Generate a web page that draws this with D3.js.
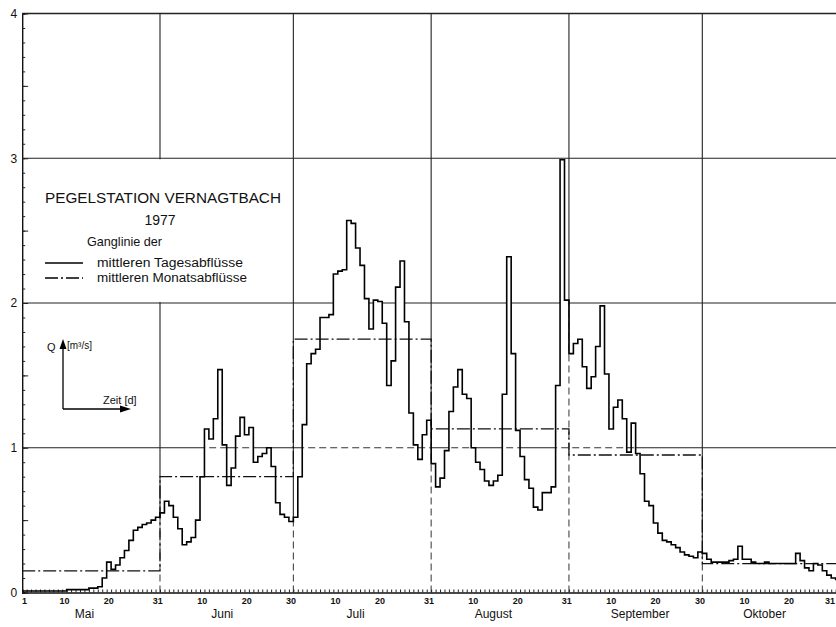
<!DOCTYPE html>
<html><head><meta charset="utf-8">
<script src="https://cdn.jsdelivr.net/npm/d3@7"></script>
<style>body{margin:0;background:#fff}svg{display:block}text{font-family:"Liberation Sans",Arial,sans-serif;fill:#111}</style>
</head><body><svg id="c" width="836" height="627"></svg>
<script>
// ---- data (mean daily discharge Q [m3/s], Vernagtbach 1977) ----
const mai = [0.01,0.01,0.01,0.01,0.01,0.01,0.01,0.01,0.01,0.01,
  0.02,0.02,0.02,0.02,0.02,0.03,0.03,0.04,
  0.10,0.21,0.16,0.19,0.24,0.29,0.36,0.43,0.45,0.47,0.48,0.50,0.52];
const juni = [0.55,0.63,0.60,0.52,0.44,0.33,0.35,0.38,0.50,0.80,
  1.13,1.06,1.20,1.54,1.02,0.74,0.86,1.08,1.21,1.09,
  1.14,0.90,0.94,0.96,1.00,0.87,0.62,0.54,0.52,0.49];
const juli = [0.52,0.80,1.16,1.58,1.65,1.68,1.90,1.90,1.92,2.20,
  2.22,2.23,2.57,2.55,2.38,2.26,2.03,1.82,2.02,2.01,
  1.86,1.43,1.60,2.11,2.29,1.87,1.24,1.02,0.92,1.09,1.19];
const august = [0.89,0.73,0.79,0.98,1.25,1.42,1.54,1.37,1.34,1.00,
  0.90,0.85,0.77,0.74,0.77,0.81,1.37,2.32,1.65,1.12,
  0.94,0.78,0.72,0.59,0.57,0.69,0.69,0.73,1.43,2.99,2.02];
const september = [1.65,1.72,1.75,1.56,1.41,1.49,1.70,1.98,1.51,1.13,
  1.28,1.33,1.20,0.97,1.17,0.96,0.82,0.63,0.60,0.48,
  0.41,0.36,0.35,0.33,0.31,0.28,0.26,0.25,0.24,0.28];
const oktober = [0.27,0.23,0.21,0.21,0.21,0.21,0.22,0.23,0.32,0.23,
  0.23,0.21,0.20,0.20,0.21,0.20,0.20,0.20,0.20,0.20,
  0.20,0.27,0.22,0.17,0.15,0.20,0.19,0.15,0.12,0.10,0.09];
const monthNames = ["Mai","Juni","Juli","August","September","Oktober"];
const monthLabelDay = [14,14,14,14,16,14];
const monthlyMeans = [0.15,0.80,1.75,1.13,0.95,0.20];
const dayLabels = [["1","10","20","31"],["10","20","30"],["10","20","31"],["10","20","31"],["10","20","30"],["10","20","31"]];
const yLabels = [0,1,2,3,4];

// ---- setup ----
const W = 836, H = 627;
const svg = d3.select("#c");
const months = [mai,juni,juli,august,september,oktober];
const monthStart = [];
let acc = 0;
months.forEach(m => { monthStart.push(acc); acc += m.length; });
const nDays = acc;
const x = d3.scaleLinear().domain([0, nDays]).range([22.2, 840.1]);
const y = d3.scaleLinear().domain([0, 4]).range([592.5, 13.5]);

const daily = [].concat(...months).map((v,i)=>[i,v]);
daily.push([nDays, daily[daily.length-1][1]]);
const means = monthlyMeans.map((v,i)=>[monthStart[i], v]);
means.push([nDays, monthlyMeans[monthlyMeans.length-1]]);

const defs = svg.append("defs");
const areaAbove = d3.area().x(d=>x(d[0])).y0(0).y1(d=>y(d[1])).curve(d3.curveStepAfter);
const areaBelow = d3.area().x(d=>x(d[0])).y0(y(0)).y1(d=>y(d[1])).curve(d3.curveStepAfter);
defs.append("clipPath").attr("id","above").append("path").attr("d", areaAbove(daily));
defs.append("clipPath").attr("id","below").append("path").attr("d", areaBelow(daily));

// ---- grid ----
const ends = monthStart.slice(1);
const gA = svg.append("g").attr("clip-path","url(#above)").attr("stroke","#222").attr("stroke-width",1.1);
[1,2,3].forEach(v => gA.append("line").attr("x1",x(0)).attr("x2",W).attr("y1",y(v)).attr("y2",y(v)));
ends.forEach(d => gA.append("line").attr("x1",x(d)).attr("x2",x(d)).attr("y1",y(4)).attr("y2",y(0)));
const gB = svg.append("g").attr("clip-path","url(#below)").attr("stroke","#333").attr("stroke-width",1).attr("stroke-dasharray","7,4");
gB.append("line").attr("x1",x(0)).attr("x2",W).attr("y1",y(1)).attr("y2",y(1));
ends.forEach(d => gB.append("line").attr("x1",x(d)).attr("x2",x(d)).attr("y1",y(4)).attr("y2",y(0)));
// top border (4)
svg.append("line").attr("x1",x(0)).attr("x2",W).attr("y1",y(4)).attr("y2",y(4)).attr("stroke","#222").attr("stroke-width",1.3);

// legend background (hides grid)
svg.append("rect").attr("x",x(0)+1).attr("y",y(3)+1).attr("width",268).attr("height",y(2)-y(3)-2).attr("fill","#fff");

// ---- axes ----
svg.append("g").attr("transform",`translate(${x(0)},0)`)
  .call(d3.axisRight(y).tickValues(d3.range(0,41).map(i=>i/10)).tickSize(3).tickFormat(""))
  .call(g=>g.selectAll("line").attr("stroke","#222"))
  .call(g=>g.select(".domain").attr("stroke","#111").attr("stroke-width",1.4));
svg.append("g").attr("transform",`translate(${x(0)},0)`)
  .call(d3.axisRight(y).tickValues(d3.range(0,9).map(i=>i/2)).tickSize(6).tickFormat(""))
  .call(g=>g.selectAll("line").attr("stroke","#222"))
  .call(g=>g.select(".domain").remove());
svg.append("g").attr("transform",`translate(16,0)`)
  .call(d3.axisLeft(y).tickValues(yLabels).tickSize(0).tickFormat(d3.format("d")))
  .call(g=>g.select(".domain").remove())
  .call(g=>g.selectAll("text").attr("font-size",12).attr("fill","#111").attr("x",-1).attr("text-anchor","middle").attr("dx","-0.1em"));
svg.append("g").attr("transform",`translate(0,${y(0)})`)
  .call(d3.axisTop(x).tickValues(d3.range(0,nDays+1)).tickSize(3).tickFormat(""))
  .call(g=>g.selectAll("line").attr("stroke","#222"))
  .call(g=>g.select(".domain").attr("stroke","#111").attr("stroke-width",1.4));

// x labels
const lab = [];
dayLabels.forEach((arr,i)=>arr.forEach(s=>lab.push({t:s, d: monthStart[i] + (+s) - 0.5})));
svg.append("g").selectAll("text").data(lab).join("text")
  .attr("x",d=>Math.min(x(d.d), W-6)).attr("y",604).attr("text-anchor","middle")
  .attr("font-size",9).attr("font-weight","bold").text(d=>d.t);
svg.append("g").selectAll("text").data(monthNames).join("text")
  .attr("x",(d,i)=>x(monthStart[i]+monthLabelDay[i])).attr("y",618).attr("text-anchor","middle")
  .attr("font-size",12).text(d=>d);

// ---- data lines ----
svg.append("path").attr("d", d3.line().x(d=>x(d[0])).y(d=>y(d[1])).curve(d3.curveStepAfter)(means))
  .attr("fill","none").attr("stroke","#111").attr("stroke-width",1.3).attr("stroke-dasharray","13,3,2,3");
svg.append("path").attr("d", d3.line().x(d=>x(d[0])).y(d=>y(d[1])).curve(d3.curveStepAfter)(daily))
  .attr("fill","none").attr("stroke","#000").attr("stroke-width",1.6).attr("stroke-linejoin","miter");

// ---- legend / title ----
svg.append("text").attr("x",45).attr("y",203).attr("font-size",14).attr("textLength",236).attr("lengthAdjust","spacingAndGlyphs").text("PEGELSTATION VERNAGTBACH");
svg.append("text").attr("x",160).attr("y",225).attr("font-size",14).attr("text-anchor","middle").text("1977");
svg.append("text").attr("x",87).attr("y",246).attr("font-size",13).attr("textLength",75).attr("lengthAdjust","spacingAndGlyphs").text("Ganglinie  der");
svg.append("line").attr("x1",45).attr("x2",83).attr("y1",263).attr("y2",263).attr("stroke","#000").attr("stroke-width",1.4);
svg.append("text").attr("x",97).attr("y",267).attr("font-size",12).attr("textLength",146).attr("lengthAdjust","spacingAndGlyphs").text("mittleren Tagesabflüsse");
svg.append("line").attr("x1",45).attr("x2",83).attr("y1",278).attr("y2",278).attr("stroke","#000").attr("stroke-width",1.3).attr("stroke-dasharray","13,3,2,3");
svg.append("text").attr("x",97).attr("y",282).attr("font-size",12).attr("textLength",150).attr("lengthAdjust","spacingAndGlyphs").text("mittleren Monatsabflüsse");

// axis symbol
svg.append("line").attr("x1",63).attr("x2",63).attr("y1",409).attr("y2",346).attr("stroke","#000").attr("stroke-width",1.3);
svg.append("path").attr("d","M59.5,349 L63,339 L66.5,349 Z").attr("fill","#000");
svg.append("line").attr("x1",63).attr("x2",124).attr("y1",409).attr("y2",409).attr("stroke","#000").attr("stroke-width",1.3);
svg.append("path").attr("d","M120,405.5 L131,409 L120,412.5 Z").attr("fill","#000");
svg.append("text").attr("x",47).attr("y",351).attr("font-size",11).text("Q");
svg.append("text").attr("x",67).attr("y",349).attr("font-size",10).text("[m³/s]");
svg.append("text").attr("x",103).attr("y",404).attr("font-size",11).text("Zeit [d]");
</script></body></html>
